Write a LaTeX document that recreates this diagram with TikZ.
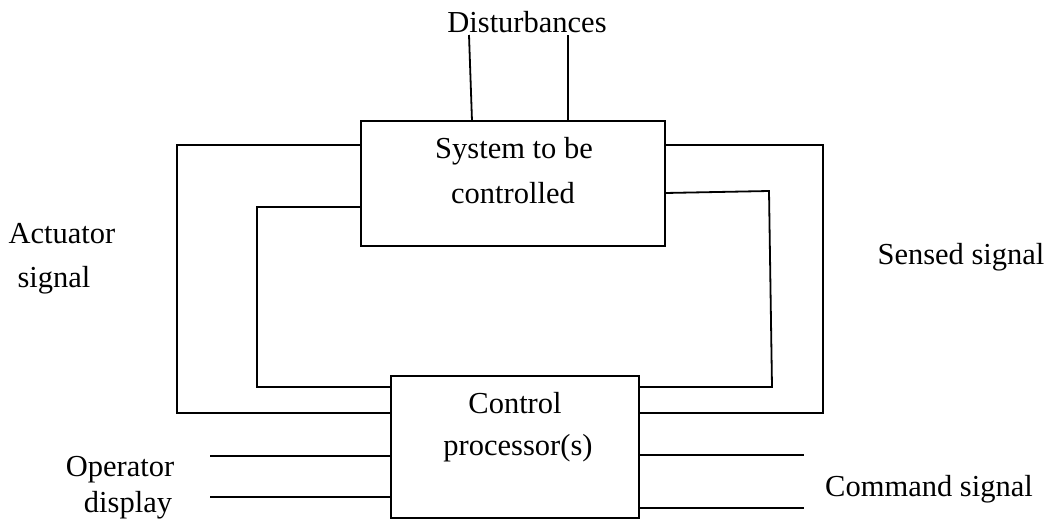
\documentclass[tikz,border=0pt]{standalone}
\usepackage{fontspec}
\setmainfont{Liberation Serif}
\begin{document}
\begin{tikzpicture}[x=1pt,y=-1pt,
  box/.style={draw,line width=1.8pt,inner sep=0pt,outer sep=0pt},
  wire/.style={line width=1.8pt,line join=miter},
  lbl/.style={font=\fontsize{30.5}{36}\selectfont,inner sep=0pt,anchor=base}]
\useasboundingbox (0,0) rectangle (1049,520);

% blocks
\node[box,minimum width=304,minimum height=125] (sys) at (513,183.5) {};
\node[box,minimum width=248,minimum height=142] (ctl) at (515,447) {};

% labels
\node[lbl] (dist) at (527,32) {Disturbances};
\node[lbl] (sys1) at (514,158) {System to be};
\node[lbl] (sys2) at (513,203) {controlled};
\node[lbl] (ctl1) at (515,413) {Control};
\node[lbl] (ctl2) at (518,455) {processor(s)};
\node[lbl] (act1) at (62,243) {Actuator};
\node[lbl] (act2) at (54,287) {signal};
\node[lbl] (sen) at (961,264) {Sensed signal};
\node[lbl] (op1) at (120,476) {Operator};
\node[lbl] (op2) at (128,512) {display};
\node[lbl] (cmd) at (929,496) {Command signal};

% free ends of the input and output lines
\coordinate (d1) at (469,35);
\coordinate (d2) at (568,35);
\coordinate (o1) at (210,456);
\coordinate (o2) at (210,497);
\coordinate (c1) at (804,455);
\coordinate (c2) at (804,508);

% disturbances
\draw[wire] (d1) -- ([xshift=-41pt]sys.north);
\draw[wire] (d2) -- (d2 |- sys.north);

% actuator loops
\draw[wire] (sys.west |- 0,145) -- (177,145) -- (177,413) -- (ctl.west |- 0,413);
\draw[wire] (sys.west |- 0,207) -- (257,207) -- (257,387) -- (ctl.west |- 0,387);

% sensed loops
\draw[wire] (sys.east |- 0,145) -- (823,145) -- (823,413) -- (ctl.east |- 0,413);
\draw[wire] (sys.east |- 0,193) -- (769,191) -- (772,387) -- (ctl.east |- 0,387);

% operator display and command signal
\draw[wire] (o1) -- (o1 -| ctl.west);
\draw[wire] (o2) -- (o2 -| ctl.west);
\draw[wire] (ctl.east |- c1) -- (c1);
\draw[wire] (ctl.east |- c2) -- (c2);
\end{tikzpicture}
\end{document}
